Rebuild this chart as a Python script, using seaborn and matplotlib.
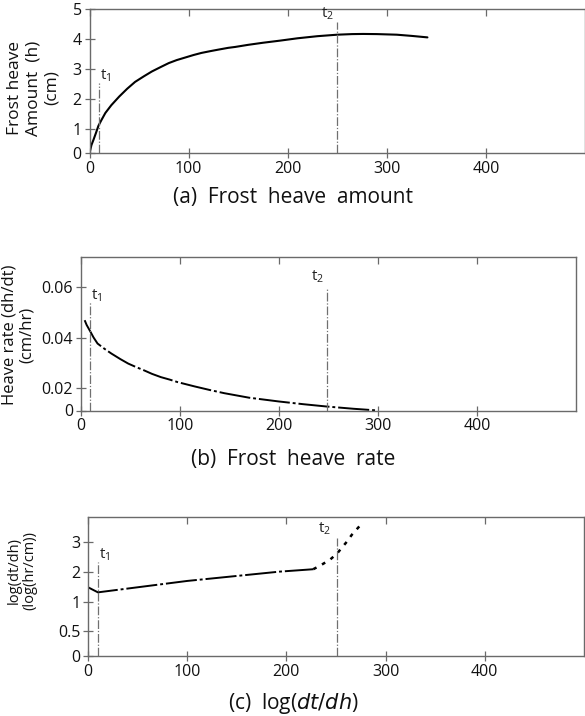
import matplotlib
matplotlib.use("Agg")
import matplotlib.pyplot as plt
import seaborn as sns
import pandas as pd

sns.set_theme(style="white")
plt.rcParams['font.family'] = ['Open Sans', 'DejaVu Sans']
plt.rcParams['mathtext.fontset'] = 'dejavusans'

# ---------------- data ----------------
# (a) Frost heave amount h (cm) vs time (hr)
a_time = [0, 2, 4, 6.5, 9, 12, 16, 22, 30, 38, 46, 55, 63, 72, 80, 88, 97, 105,
          113, 122, 130, 140, 147, 160, 175, 192, 210, 230, 250, 265, 276, 290,
          310, 325, 341]
a_heave = [0.18, 0.45, 0.62, 0.85, 1.09, 1.28, 1.52, 1.78, 2.07, 2.33, 2.56, 2.75,
           2.91, 3.06, 3.19, 3.29, 3.38, 3.46, 3.53, 3.59, 3.64, 3.70, 3.73, 3.80,
           3.87, 3.94, 4.02, 4.09, 4.14, 4.16, 4.165, 4.16, 4.14, 4.10, 4.05]

# (b) Heave rate dh/dt (cm/hr)
b_time = [4, 6, 9, 13, 17, 24, 31, 40, 48, 56, 64, 72, 81, 90, 98, 115, 130, 145,
          170, 200, 225, 248, 275, 300]
b_rate = [0.0469, 0.0450, 0.0429, 0.0400, 0.0376, 0.0355, 0.0336, 0.0314, 0.0296,
          0.0282, 0.0269, 0.0255, 0.0242, 0.0232, 0.0222, 0.0205, 0.0191, 0.0178,
          0.0160, 0.0145, 0.0134, 0.0125, 0.0116, 0.0109]

# (c) log(dt/dh)
c_time_main = [0, 10, 100, 193, 227]
c_log_main = [1.48, 1.31, 1.69, 2.0, 2.08]
c_time_end = [227, 234, 244, 251, 256, 261, 266, 276]
c_log_end = [2.08, 2.2, 2.4, 2.6, 2.8, 3.0, 3.23, 3.6]

# marker times
t1 = 10
t2 = 250

x_ticks = [0, 100, 200, 300, 400]
a_tick_labels = ["0", "1", "2", "3", "4", "5"]
b_tick_labels = ["0", "0.02", "0.04", "0.06"]
c_tick_labels = ["0", "0.5", "1", "2", "3"]

captions = ["(a)  Frost  heave  amount", "(b)  Frost  heave  rate",
            r"(c)  log($\mathit{dt/dh}$)"]
ylabels = ["Frost heave\nAmount  (h)\n(cm)", "Heave rate (dh/dt)\n(cm/hr)",
           "log(dt/dh)\n(log(hr/cm))"]

# axis settings (positions of the drawn tick marks)
a_ylim = (0.18, 5.0)
a_ytick_pos = [0.18, 1, 2, 3, 4, 5]
b_ylim = (0.0109, 0.0721)
b_ytick_pos = [0.0109, 0.02, 0.04, 0.06]
c_ylim = (-0.81, 3.82)
c_ytick_pos = [-0.81, 0.02, 1, 2, 3]

W, H = 585, 716
fig = plt.figure(figsize=(W / 100, H / 100), dpi=100)

def px_axes(left, right, top, bottom):
    return fig.add_axes([left / W, 1 - bottom / H, (right - left) / W, (bottom - top) / H])

ax_a = px_axes(89.5, 585, 9, 153)
ax_b = px_axes(80.7, 576, 257, 410.5)
ax_c = px_axes(88, 584, 517, 656)

frame_col = "#6a6a6a"
vline_kw = dict(color="#707070", lw=0.9, linestyle=(0, (7, 1.5, 1, 1.5)))
lab_fs = 11

def style_axes(ax, ylim, ytick_pos, ytick_labels):
    ax.set_xlim(0, 500)
    ax.set_ylim(*ylim)
    ax.set_xticks(x_ticks)
    ax.set_xticklabels([str(v) for v in x_ticks])
    ax.set_yticks(ytick_pos)
    ax.set_yticklabels(ytick_labels)
    ax.set_xlabel("")
    ax.set_ylabel("")
    for s in ax.spines.values():
        s.set_color(frame_col)
        s.set_linewidth(1.0)
        s.set_visible(True)
    ax.tick_params(axis="both", direction="inout", length=7, width=0.9,
                   color=frame_col, labelsize=11.5, labelcolor="#111111", pad=2,
                   left=True, bottom=True)
    sec = ax.secondary_xaxis("top")
    sec.set_xticks(x_ticks)
    sec.tick_params(direction="in", length=5, width=0.9, color=frame_col,
                    labeltop=False)
    sec.spines["top"].set_visible(False)
    ax.grid(False)
    ax.set_facecolor("white")

def t_label(ax, x, y, n, ha):
    ax.text(x, y, "t$_{\\mathregular{%d}}$" % n, fontsize=lab_fs, ha=ha, va="bottom",
            color="#222222")

# ---- (a)
df_a = pd.DataFrame({"time": a_time, "h": a_heave})
sns.lineplot(data=df_a, x="time", y="h", ax=ax_a, color="black", lw=1.5,
             estimator=None, sort=False)
style_axes(ax_a, a_ylim, a_ytick_pos, a_tick_labels)
ax_a.vlines(t1, a_ylim[0], 2.53, **vline_kw)
ax_a.vlines(t2, a_ylim[0], 4.58, **vline_kw)
t_label(ax_a, t1 + 1, 2.5, 1, "left")
t_label(ax_a, t2 - 3, 4.55, 2, "right")

# ---- (b)
df_b = pd.DataFrame({"time": b_time, "rate": b_rate})
sns.lineplot(data=df_b, x="time", y="rate", ax=ax_b, color="black", lw=1.4,
             linestyle=(0, (16, 1.5, 1.5, 1.5)), estimator=None, sort=False)
style_axes(ax_b, b_ylim, b_ytick_pos, b_tick_labels)
ax_b.vlines(t1 - 1, b_ylim[0], 0.0542, **vline_kw)
ax_b.vlines(t2 - 1, b_ylim[0], 0.0598, **vline_kw)
t_label(ax_b, t1, 0.0535, 1, "left")
t_label(ax_b, t2 - 4, 0.061, 2, "right")

# ---- (c)
df_c1 = pd.DataFrame({"time": c_time_main, "v": c_log_main})
df_c2 = pd.DataFrame({"time": c_time_end, "v": c_log_end})
sns.lineplot(data=df_c1, x="time", y="v", ax=ax_c, color="black", lw=1.4,
             linestyle=(0, (16, 1.5, 1.5, 1.5)), estimator=None, sort=False)
sns.lineplot(data=df_c2, x="time", y="v", ax=ax_c, color="black", lw=1.8,
             linestyle=(0, (1.5, 2.5)), estimator=None, sort=False)
style_axes(ax_c, c_ylim, c_ytick_pos, c_tick_labels)
ax_c.vlines(t1, c_ylim[0], 2.32, **vline_kw)
ax_c.vlines(t2 + 1, c_ylim[0], 3.13, **vline_kw)
t_label(ax_c, t1 + 1, 2.3, 1, "left")
t_label(ax_c, t2 - 5, 3.15, 2, "right")

# y labels
fig.text(33 / W, 1 - 88 / H, ylabels[0], rotation=90, ha="center", va="center",
         multialignment="center", fontsize=12.5, linespacing=1.2, color="#111111")
fig.text(18 / W, 1 - 335 / H, ylabels[1], rotation=90, ha="center", va="center",
         multialignment="center", fontsize=12, linespacing=1.1, color="#111111")
fig.text(22 / W, 1 - 570 / H, ylabels[2], rotation=90, ha="center", va="center",
         multialignment="center", fontsize=10.5, linespacing=1.1, color="#111111")

# captions
for (cy, txt) in zip([198, 459, 703], captions):
    fig.text(293 / W, 1 - cy / H, txt, ha="center", va="center", fontsize=15,
             color="#111111")

fig.savefig("out.png", dpi=100, facecolor="white")
